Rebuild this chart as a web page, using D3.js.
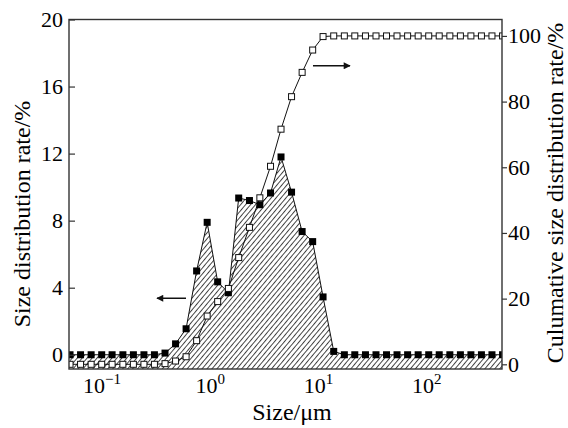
<!DOCTYPE html>
<html><head><meta charset="utf-8">
<script src="https://cdn.jsdelivr.net/npm/d3@7"></script>
</head><body style="margin:0">
<script>
// Particle sizes (µm)
const sizes = [0.0507,0.0634,0.0794,0.0994,0.124,0.156,0.195,0.244,0.305,0.382,
  0.478,0.598,0.748,0.936,1.17,1.47,1.83,2.30,2.87,3.60,
  4.50,5.63,7.05,8.82,11.0,13.8,17.3,21.6,27.1,33.9,
  42.4,53.0,66.4,83.1,104,130,163,204,255,319,399,500];
// Size distribution rate (%)
const distribution = [0,0,0,0,0,0,0,0,0,0.1,
  0.65,1.55,5.0,7.9,4.35,3.7,9.35,9.2,8.95,9.65,
  11.8,9.7,7.35,6.75,3.45,0.2,0,0,0,0,
  0,0,0,0,0,0,0,0,0,0,0,0];
// Cumulative size distribution rate (%)
const cumulative = [0,0,0,0,0,0,0,0,0,0.2,
  1.0,2.3,7.2,14.7,19.1,23.1,32.5,41.7,50.7,60.3,
  71.6,81.5,88.9,95.7,99.8,100,100,100,100,100,
  100,100,100,100,100,100,100,100,100,100,100,100];
const xTickExp = [-1,0,1,2];
const leftTicks = [0,4,8,12,16,20];
const rightTicks = [0,20,40,60,80,100];
// arrows: [x0, x1, value, axis]
const arrows = [
  {x0:0.597, x1:0.322, v:3.37, axis:"left"},
  {x0:8.88, x1:19.5, v:90.9, axis:"right"}
];

const W=568,H=428;
const L=69,R=502,T=19.5,B=369;
const svg=d3.select("body").append("svg").attr("width",W).attr("height",H)
  .style("display","block").style("background","#fff");
const x=d3.scaleLog().domain([0.0496,494]).range([L,R]);
const yL=d3.scaleLinear().domain([-0.85,20]).range([B,T]);
const yR=d3.scaleLinear().domain([-1.43,105]).range([B,T]);

function serif(sel,size){
  return sel.attr("font-family","Liberation Serif")
    .style("font-family",'"Liberation Serif"').attr("font-size",size);
}

const defs=svg.append("defs");
const pat=defs.append("pattern").attr("id","hatch").attr("patternUnits","userSpaceOnUse")
  .attr("width",3.8).attr("height",10).attr("patternTransform","rotate(40)");
pat.append("line").attr("x1",0.5).attr("y1",0).attr("x2",0.5).attr("y2",10)
  .attr("stroke","#111").attr("stroke-width",0.8);
defs.append("clipPath").attr("id","clip").append("rect")
  .attr("x",L).attr("y",T-5).attr("width",R-L).attr("height",B-T+5);
const mk=defs.append("marker").attr("id","ah").attr("viewBox","0 0 10 10")
  .attr("refX",9).attr("refY",5).attr("markerWidth",12).attr("markerHeight",7)
  .attr("markerUnits","userSpaceOnUse").attr("orient","auto");
mk.append("path").attr("d","M0,0 L10,5 L0,10 Z").attr("fill","#111");

const data=sizes.map((s,i)=>({s,d:distribution[i],c:cumulative[i]}));
const g=svg.append("g").attr("clip-path","url(#clip)");

// hatched area
g.append("path").datum(data)
  .attr("d",d3.area().x(d=>x(d.s)).y0(B).y1(d=>yL(d.d)))
  .attr("fill","url(#hatch)");
// distribution line
g.append("path").datum(data)
  .attr("d",d3.line().x(d=>x(d.s)).y(d=>yL(d.d)))
  .attr("fill","none").attr("stroke","#111").attr("stroke-width",1);
// cumulative line
g.append("path").datum(data)
  .attr("d",d3.line().x(d=>x(d.s)).y(d=>yR(d.c)))
  .attr("fill","none").attr("stroke","#111").attr("stroke-width",1);
// filled markers
const fs=7;
g.selectAll("rect.f").data(data).enter().append("rect")
  .attr("x",d=>x(d.s)-fs/2).attr("y",d=>yL(d.d)-fs/2)
  .attr("width",fs).attr("height",fs).attr("fill","#000");
// open markers
const os=6;
g.selectAll("rect.o").data(data).enter().append("rect")
  .attr("x",d=>x(d.s)-os/2).attr("y",d=>yR(d.c)-os/2)
  .attr("width",os).attr("height",os).attr("fill","#fff")
  .attr("stroke","#111").attr("stroke-width",1);

// frame
svg.append("rect").attr("x",L).attr("y",T).attr("width",R-L).attr("height",B-T)
  .attr("fill","none").attr("stroke","#333").attr("stroke-width",1.4);

// left axis (inward ticks)
const la=svg.append("g").attr("transform",`translate(${L},0)`)
  .call(d3.axisRight(yL).tickValues(leftTicks).tickSize(6).tickFormat(""));
la.select(".domain").remove();
la.selectAll("line").attr("stroke","#333").attr("stroke-width",1.2);
// right axis (outward ticks)
const ra=svg.append("g").attr("transform",`translate(${R},0)`)
  .call(d3.axisRight(yR).tickValues(rightTicks).tickSize(5).tickFormat(""));
ra.select(".domain").remove();
ra.selectAll("line").attr("stroke","#333").attr("stroke-width",1.2);

const tg=svg.append("g");
serif(tg,22);
leftTicks.forEach(d=>{
  serif(tg.append("text"),22).attr("x",L-6).attr("y",yL(d)+7.5)
    .attr("text-anchor","end").text(d);
});
rightTicks.forEach(d=>{
  serif(tg.append("text"),22).attr("x",R+6).attr("y",yR(d)+7.5)
    .attr("text-anchor","start").text(d);
});
xTickExp.forEach(d=>{
  const t=serif(tg.append("text"),22).attr("x",x(Math.pow(10,d))).attr("y",393)
    .attr("text-anchor","middle");
  t.append("tspan").text("10");
  t.append("tspan").attr("dy",-9).attr("font-size",15).text(d<0?"\u2212"+(-d):d);
});

// arrows
arrows.forEach(a=>{
  const ys=a.axis==="left"?yL:yR;
  svg.append("line").attr("x1",x(a.x0)).attr("x2",x(a.x1))
    .attr("y1",ys(a.v)).attr("y2",ys(a.v))
    .attr("stroke","#111").attr("stroke-width",1.5).attr("marker-end","url(#ah)");
});

// axis titles
serif(tg.append("text"),24).attr("x",292).attr("y",420).attr("text-anchor","middle")
  .text("Size/\u03bcm");
serif(tg.append("text"),24).attr("transform","translate(30,214) rotate(-90)")
  .attr("text-anchor","middle").text("Size distribution rate/%");
serif(tg.append("text"),24).attr("transform","translate(563,193) rotate(-90)")
  .attr("text-anchor","middle").text("Culumative size distribution rate/%");
</script>
</body></html>
